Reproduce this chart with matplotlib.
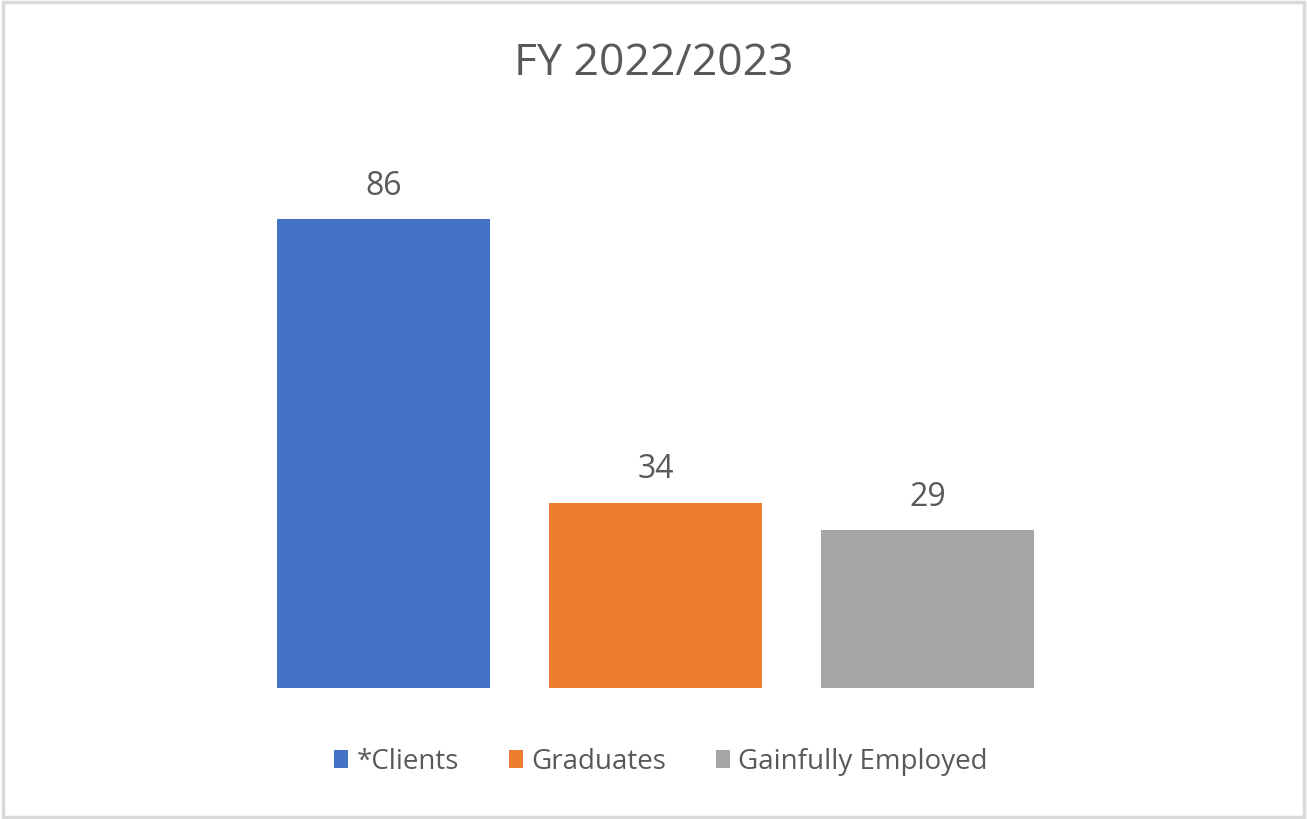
import matplotlib
matplotlib.use('Agg')
import matplotlib.pyplot as plt
from matplotlib.patches import Patch, Rectangle

plt.rcParams['font.family'] = ['Open Sans', 'DejaVu Sans']

categories = ['*Clients', 'Graduates', 'Gainfully Employed']
values = [86, 34, 29]
colors = ['#4472C4', '#ED7D31', '#A5A5A5']
title = 'FY 2022/2023'
text_color = '#595959'

fig = plt.figure(figsize=(13.07, 8.19), dpi=100)
ax = fig.add_axes([247.5 / 1307, 131 / 819, 816 / 1307, 545 / 819])

bars = ax.bar(range(len(values)), values, width=0.783, color=colors)
for i, v in enumerate(values):
    ax.annotate(str(v), (i, v), xytext=(0, 17.5), textcoords='offset points',
                ha='center', va='baseline', fontsize=23, color=text_color)

ax.set_xlim(-0.5, 2.5)
ax.set_ylim(0, 100)
ax.axis('off')

fig.text(0.5, 1 - 64 / 819, title, ha='center', va='center',
         fontsize=32, color=text_color)

handles = [Patch(facecolor=c, label=l) for c, l in zip(colors, categories)]
fig.legend(handles=handles, loc='center', bbox_to_anchor=(661 / 1307, 1 - 762 / 819),
           ncol=3, frameon=False, fontsize=20, labelcolor=text_color,
           handlelength=0.5, handleheight=0.6, handletextpad=0.3, columnspacing=1.8)

# light frame round the chart area
fig.patches.append(Rectangle((0.002, 0.002), 0.996, 0.995, transform=fig.transFigure,
                             fill=False, edgecolor='#D9D9D9', linewidth=2.5))

fig.savefig('out.png', dpi=100)
